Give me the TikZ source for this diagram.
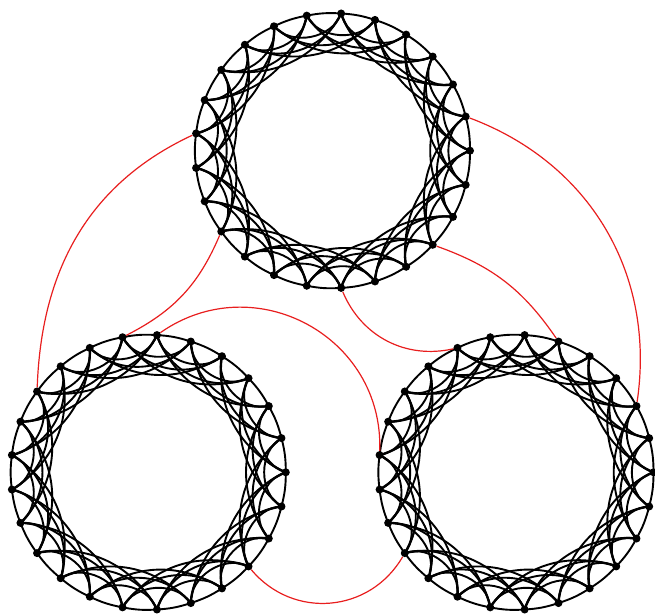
\documentclass[tikz,border=0pt]{standalone}
\pgfdeclarelayer{bg}
\pgfsetlayers{bg,main}
\definecolor{linkred}{RGB}{232,30,30}
\tikzset{
  vert/.style={circle,fill=black,inner sep=0pt,minimum size=8pt},
  ringedge/.style={line width=1.9pt,black},
  link/.style={line width=1.2pt,linkred}
}
\begin{document}
\begin{tikzpicture}[x=1pt,y=1pt]
\useasboundingbox (0,0) rectangle (655,615);
\foreach \nm/\cx/\cy in {T/332.5/464.3, L/148.3/142.7, R/516/142.7} {
  \foreach \i in {0,...,24} {
    \node[vert] (\nm\i) at ({\cx+137.5*cos(14.4*\i)},{\cy+137.5*sin(14.4*\i)}) {};
  }
}
\begin{pgfonlayer}{bg}
\foreach \nm in {T,L,R} {
  \foreach \i in {0,...,24} {
    \pgfmathtruncatemacro\ja{mod(\i+1,25)}
    \draw[ringedge] (\nm\i.center) to[bend right=7.2] (\nm\ja.center);
    \foreach \k/\t in {2/60,3/48,4/36} {
      \pgfmathtruncatemacro\jb{mod(\i+\k,25)}
      \draw[ringedge] (\nm\i.center) to[bend left=\t] (\nm\jb.center);
    }
  }
}
\draw[link] (T12) to[out=205,in=88] (L10);
\draw[link] (T15) to[bend left=20] (L7);
\draw[link] (T19) to[bend right=40] (R8);
\draw[link] (T22) to[bend left=18] (R5);
\draw[link] (T1) to[bend left=39] (R2);
\draw[link] (L6) to[out=35,in=88,looseness=1.18] (R12);
\draw[link] (L22) to[bend right=55,looseness=1.1] (R15);
\end{pgfonlayer}
\end{tikzpicture}
\end{document}
